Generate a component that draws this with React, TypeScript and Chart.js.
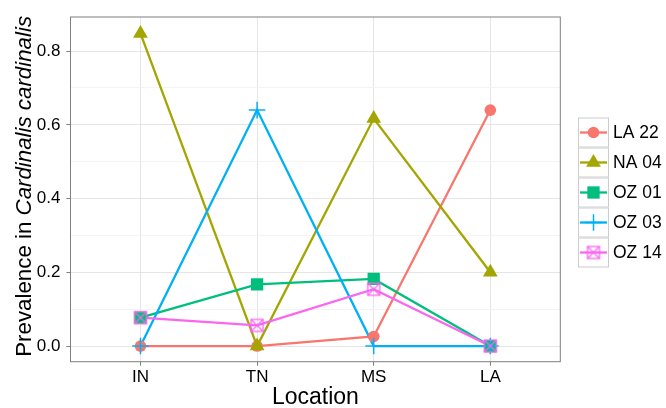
import React, { useEffect, useRef } from "react";
import { Chart, registerables } from "chart.js";

Chart.register(...registerables);

const categories = ["IN", "TN", "MS", "LA"];
const seriesNames = ["LA 22", "NA 04", "OZ 01", "OZ 03", "OZ 14"];
const la22 = [0, 0, 0.026, 0.64];
const na04 = [0.848, 0, 0.617, 0.2];
const oz01 = [0.077, 0.167, 0.182, 0];
const oz03 = [0, 0.64, 0, 0];
const oz14 = [0.077, 0.056, 0.154, 0];
const seriesValues = [la22, na04, oz01, oz03, oz14];
const seriesColors = ["#F8766D", "#A3A500", "#00BF7D", "#00B0F6", "#FA66F0"];
const seriesShapes = ["circle", "triangle", "rect", "cross", "rectX"];
const yMajorTicks = [0, 0.2, 0.4, 0.6, 0.8];
const yMinorTicks = [0.1, 0.3, 0.5, 0.7];

const FONT = "'Liberation Sans', Arial, Helvetica, sans-serif";

function isMajor(v: number) {
  return yMajorTicks.some((m) => Math.abs(m - v) < 1e-9);
}

function makeRectX(color: string) {
  const c = document.createElement("canvas");
  c.width = 16;
  c.height = 16;
  const g = c.getContext("2d")!;
  g.strokeStyle = color;
  g.lineWidth = 1.3;
  g.strokeRect(2, 2, 12, 12);
  g.beginPath();
  g.moveTo(2, 2);
  g.lineTo(14, 14);
  g.moveTo(14, 2);
  g.lineTo(2, 14);
  g.stroke();
  return c;
}

const radii: Record<string, number> = { circle: 5.8, triangle: 8.5, rect: 8.7, cross: 8.3, rectX: 8 };

function drawMarker(ctx: CanvasRenderingContext2D, shape: string, color: string, x: number, y: number, img: HTMLCanvasElement) {
  const r = radii[shape];
  ctx.save();
  ctx.fillStyle = color;
  ctx.strokeStyle = color;
  if (shape === "circle") {
    ctx.beginPath();
    ctx.arc(x, y, r, 0, Math.PI * 2);
    ctx.fill();
  } else if (shape === "triangle") {
    ctx.beginPath();
    ctx.moveTo(x, y - r);
    ctx.lineTo(x + r * Math.sin(Math.PI / 3), y + r / 2);
    ctx.lineTo(x - r * Math.sin(Math.PI / 3), y + r / 2);
    ctx.closePath();
    ctx.fill();
  } else if (shape === "rect") {
    const s = r * Math.SQRT1_2;
    ctx.fillRect(x - s, y - s, 2 * s, 2 * s);
  } else if (shape === "cross") {
    ctx.lineWidth = 1.5;
    ctx.beginPath();
    ctx.moveTo(x - r, y);
    ctx.lineTo(x + r, y);
    ctx.moveTo(x, y - r);
    ctx.lineTo(x, y + r);
    ctx.stroke();
  } else {
    ctx.drawImage(img, x - 8, y - 8, 16, 16);
  }
  ctx.restore();
}

export default function App() {
  const ref = useRef<HTMLCanvasElement>(null);

  useEffect(() => {
    document.body.style.margin = "0";
    const canvas = ref.current!;
    const rectImgs = seriesColors.map((c) => makeRectX(c));

    const lineSets = seriesNames.map((name, i) => ({
      label: name,
      data: seriesValues[i].map((v, j) => ({ x: j, y: v })),
      borderColor: seriesColors[i],
      backgroundColor: seriesColors[i],
      borderWidth: 2.3,
      pointRadius: 0,
      pointHoverRadius: 0,
      order: 20 - i,
    }));
    const pointSets = seriesNames.map((name, i) => {
      const shape = seriesShapes[i];
      return {
        label: name + " pts",
        data: seriesValues[i].map((v, j) => ({ x: j, y: v })),
        showLine: false,
        borderColor: seriesColors[i],
        backgroundColor: seriesColors[i],
        pointStyle: shape === "rectX" ? rectImgs[i] : shape,
        pointRadius: radii[shape],
        pointBorderWidth: shape === "cross" ? 1.5 : 0,
        order: 10 - i,
      };
    });

    const decor = {
      id: "decor",
      afterDatasetsDraw(chart: any) {
        const { ctx, chartArea: a } = chart;
        ctx.save();
        ctx.strokeStyle = "#7F7F7F";
        ctx.lineWidth = 1;
        ctx.strokeRect(a.left, a.top, a.right - a.left, a.bottom - a.top);
        ctx.restore();
      },
      afterDraw(chart: any) {
        const { ctx, chartArea: a } = chart;
        ctx.save();
        // x title
        ctx.fillStyle = "#000";
        ctx.font = `23px ${FONT}`;
        ctx.textAlign = "center";
        ctx.textBaseline = "alphabetic";
        ctx.fillText("Location", (a.left + a.right) / 2, 404);
        // y title
        const p1 = "Prevalence in ";
        const p2 = "Cardinalis cardinalis";
        const fs = 22.3;
        ctx.font = `${fs}px ${FONT}`;
        const w1 = ctx.measureText(p1).width;
        ctx.font = `italic ${fs}px ${FONT}`;
        const w2 = ctx.measureText(p2).width;
        const total = w1 + w2;
        ctx.translate(31, (a.top + a.bottom) / 2 - 3);
        ctx.rotate(-Math.PI / 2);
        ctx.textAlign = "left";
        ctx.font = `${fs}px ${FONT}`;
        ctx.fillText(p1, -total / 2, 0);
        ctx.font = `italic ${fs}px ${FONT}`;
        ctx.fillText(p2, -total / 2 + w1, 0);
        ctx.restore();

        // legend
        ctx.save();
        const kx = 578;
        const kw = 31;
        const kh = 30;
        const top0 = 117.5;
        seriesNames.forEach((name, i) => {
          const ty = top0 + i * kh;
          ctx.fillStyle = "#FFFFFF";
          ctx.fillRect(kx, ty, kw, kh);
          ctx.strokeStyle = "#CCCCCC";
          ctx.lineWidth = 1;
          ctx.strokeRect(kx + 0.5, ty + 0.5, kw - 1, kh - 1);
          const cy = ty + kh / 2;
          ctx.strokeStyle = seriesColors[i];
          ctx.lineWidth = 2.3;
          ctx.beginPath();
          ctx.moveTo(kx + 2, cy);
          ctx.lineTo(kx + kw - 2, cy);
          ctx.stroke();
          drawMarker(ctx, seriesShapes[i], seriesColors[i], kx + kw / 2, cy, rectImgs[i]);
          ctx.fillStyle = "#000";
          ctx.font = `17.5px ${FONT}`;
          ctx.textAlign = "left";
          ctx.textBaseline = "middle";
          ctx.fillText(name, 613, cy + 1);
        });
        ctx.restore();
      },
    };

    const chart = new Chart(canvas, {
      type: "line",
      data: { datasets: [...lineSets, ...pointSets] as any },
      options: {
        animation: false,
        responsive: false,
        devicePixelRatio: 1,
        layout: { padding: { top: 17, right: 105.7, bottom: 0, left: 0 } },
        plugins: { legend: { display: false }, tooltip: { enabled: false } },
        scales: {
          x: {
            type: "linear",
            min: -0.6,
            max: 3.6,
            afterBuildTicks: (s: any) => {
              s.ticks = categories.map((_, j) => ({ value: j }));
            },
            afterFit: (s: any) => {
              s.height = 46.3;
            },
            ticks: {
              callback: (v: any) => categories[Math.round(Number(v))] ?? "",
              color: "#000",
              font: { family: FONT, size: 17 },
              padding: 1,
              maxRotation: 0,
              autoSkip: false,
            },
            grid: { color: "#E5E5E5", lineWidth: 1, tickColor: "#7F7F7F", tickLength: 4 },
            border: { display: false },
          },
          y: {
            type: "linear",
            min: -0.0425,
            max: 0.8925,
            afterBuildTicks: (s: any) => {
              s.ticks = [...yMajorTicks, ...yMinorTicks].sort((a, b) => a - b).map((v) => ({ value: v }));
            },
            afterFit: (s: any) => {
              s.width = 70.5;
            },
            ticks: {
              callback: (v: any) => (isMajor(Number(v)) ? Number(v).toFixed(1) : ""),
              color: "#000",
              font: { family: FONT, size: 17 },
              padding: 6,
              autoSkip: false,
            },
            grid: {
              color: (c: any) => (isMajor(c.tick.value) ? "#E5E5E5" : "#F4F4F4"),
              tickColor: (c: any) => (isMajor(c.tick.value) ? "#7F7F7F" : "rgba(0,0,0,0)"),
              lineWidth: 1,
              tickLength: 4,
            },
            border: { display: false },
          },
        },
      },
      plugins: [decor],
    });
    return () => chart.destroy();
  }, []);

  return (
    <div style={{ width: 666, height: 408 }}>
      <canvas ref={ref} width={666} height={408} style={{ display: "block" }} />
    </div>
  );
}
